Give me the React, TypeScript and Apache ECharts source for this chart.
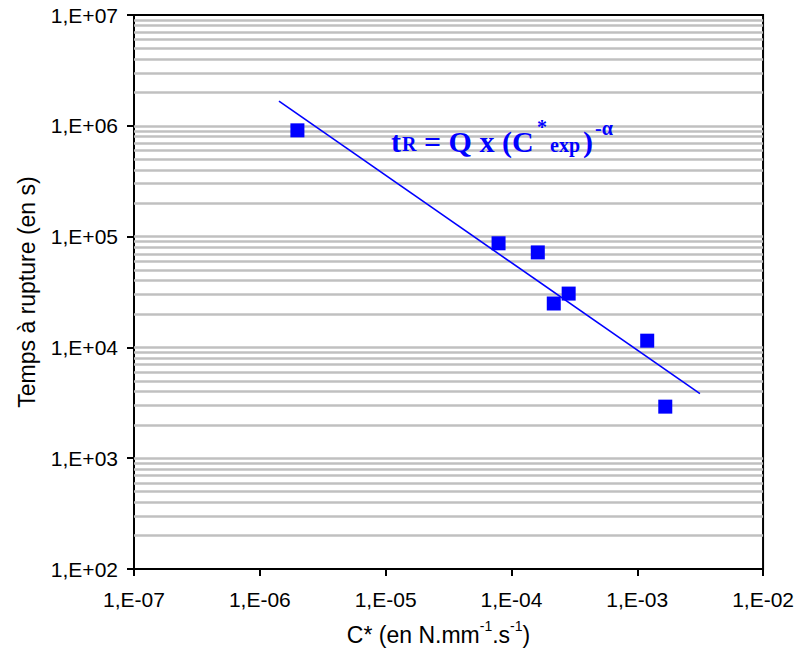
import React, { useEffect, useRef } from "react";
import * as echarts from "echarts";

const pointsX = [1.99e-6, 7.9e-5, 1.62e-4, 2.17e-4, 2.85e-4, 1.2e-3, 1.67e-3];
const pointsY = [9.1e5, 8.7e4, 7.2e4, 2.49e4, 3.06e4, 1.15e4, 2.92e3];
const trendX = [1.42e-6, 3.15e-3];
const trendY = [1.67e6, 3.82e3];
const xMin = 1e-7, xMax = 1e-2;
const yMin = 1e2, yMax = 1e7;

const fmt = (v: number) => {
  const e = Math.round(Math.log10(v));
  return `1,E${e >= 0 ? "+" : "-"}${String(Math.abs(e)).padStart(2, "0")}`;
};

export default function App() {
  const ref = useRef<HTMLDivElement>(null);
  useEffect(() => {
    const chart = echarts.init(ref.current!, null, { renderer: "svg" });
    const gridVals: number[] = [];
    for (let d = 2; d < 7; d++) for (let k = 1; k <= 9; k++) if (!(d === 2 && k === 1)) gridVals.push(k * Math.pow(10, d));
    const sans = "Liberation Sans, Arial, sans-serif";
    const serif = "Liberation Serif, Times New Roman, serif";
    const blue = "#0000ff";
    const eq = (text: string, x: number, y: number, size: number) => ({
      type: "text", x, y, z: 100,
      style: { text, fill: blue, font: `bold ${size}px ${serif}`, textAlign: "left", textVerticalAlign: "middle", verticalAlign: "middle" },
    });
    chart.setOption({
      animation: false,
      grid: { left: 134, top: 15, right: 32, bottom: 84, show: true, borderColor: "#000", borderWidth: 2, backgroundColor: "transparent" },
      xAxis: {
        type: "log", logBase: 10, min: xMin, max: xMax,
        axisLine: { lineStyle: { color: "#000", width: 2 } },
        axisTick: { length: 7, lineStyle: { color: "#000", width: 2 } },
        axisLabel: { formatter: fmt, color: "#000", fontFamily: sans, fontSize: 21, margin: 20 },
        splitLine: { show: false },
        name: "{a|C* (en N.mm}{s|-1}{a|.s}{s|-1}{a|)}",
        nameLocation: "middle", nameGap: 50,
        nameTextStyle: {
          padding: [0, 20, 0, 0],
          rich: {
            a: { fontFamily: sans, fontSize: 23, color: "#000", lineHeight: 27, verticalAlign: "bottom" },
            s: { fontFamily: sans, fontSize: 14, color: "#000", lineHeight: 27, verticalAlign: "top" },
          },
        },
      },
      yAxis: {
        type: "log", logBase: 10, min: yMin, max: yMax,
        axisLine: { lineStyle: { color: "#000", width: 2 } },
        axisTick: { length: 7, lineStyle: { color: "#000", width: 2 } },
        axisLabel: { formatter: fmt, color: "#000", fontFamily: sans, fontSize: 21, margin: 16 },
        splitLine: { show: false },
        name: "Temps à rupture (en s)",
        nameLocation: "middle", nameGap: 96,
        nameTextStyle: { fontFamily: sans, fontSize: 23, color: "#000" },
      },
      graphic: [
        eq("t", 391, 141, 30),
        eq("R", 402, 144, 20),
        eq("= Q x (C", 424, 141, 30),
        eq("*", 537, 127, 20),
        eq("exp", 550, 145, 20),
        eq(")", 583, 141, 30),
        eq("-α", 595, 128, 20),
      ],
      series: [
        {
          type: "line", data: [], silent: true, z: 1,
          markLine: {
            z: 1, silent: true, symbol: "none", label: { show: false },
            lineStyle: { color: "#c0c0c0", width: 2.5, type: "solid" },
            emphasis: { disabled: true },
            data: gridVals.map((v) => ({ yAxis: v })),
          },
        },
        {
          type: "line", data: trendX.map((x, i) => [x, trendY[i]]),
          showSymbol: false, symbol: "none", lineStyle: { color: blue, width: 1.6, type: "solid" }, z: 10,
        },
        {
          type: "scatter", data: pointsX.map((x, i) => [x, pointsY[i]]),
          symbol: "rect", symbolSize: 14, itemStyle: { color: blue, opacity: 1 }, z: 11,
        },
      ],
    });
    return () => chart.dispose();
  }, []);
  return <div ref={ref} style={{ width: 797, height: 653, position: "absolute", left: 0, top: 0 }} />;
}
